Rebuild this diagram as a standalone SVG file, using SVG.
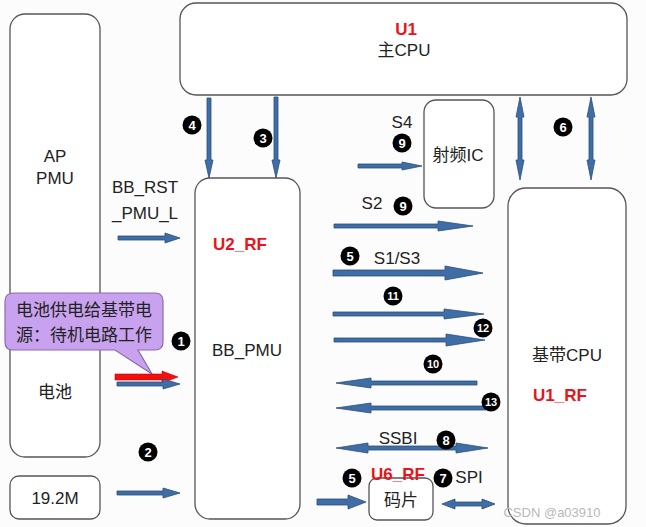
<svg xmlns="http://www.w3.org/2000/svg" width="646" height="527" viewBox="0 0 646 527">
<style>
.box{fill:#fff;stroke:#555;stroke-width:1.3}
.t{font-family:"Liberation Sans","Noto Sans CJK SC",sans-serif;font-size:17px;fill:#222;text-anchor:middle}
.r{fill:#e8141b;font-weight:bold}
.ar{fill:#3f6ea6;stroke:#2b4c78;stroke-width:0.8}
.n circle{fill:#000}
.n text{font-family:"Liberation Sans",sans-serif;font-size:13px;font-weight:bold;fill:#fff;text-anchor:middle}
</style>
<rect width="646" height="527" fill="#fcfcfc"/>
<g id="u1"><rect class="box" x="180" y="3" width="447" height="92" rx="16"/>
<text class="t r" x="406" y="35">U1</text><text class="t" x="404" y="56">主CPU</text></g>
<g id="ap-pmu"><rect class="box" x="10" y="14" width="90" height="443" rx="15"/>
<text class="t" x="55" y="162">AP</text><text class="t" x="55" y="184">PMU</text><text class="t" x="55" y="398">电池</text></g>
<g id="osc"><rect class="box" x="10" y="476" width="90" height="43" rx="9"/><text class="t" x="55" y="504">19.2M</text></g>
<g id="u2"><rect class="box" x="195" y="178" width="105" height="341" rx="15"/>
<text class="t r" x="240" y="250">U2_RF</text><text class="t" x="247" y="356">BB_PMU</text></g>
<g id="rfic"><rect class="box" x="424" y="100" width="70" height="108" rx="12"/><text class="t" x="458" y="161">射频IC</text></g>
<g id="bbcpu"><rect class="box" x="508" y="188" width="118" height="336" rx="18"/>
<text class="t" x="567" y="361">基带CPU</text><text class="t r" x="560" y="401">U1_RF</text></g>
<g id="chip"><rect class="box" x="369" y="478" width="64" height="42" rx="8"/><text class="t" x="401" y="506">码片</text></g>
<g id="bubble"><path d="M14,293 H155 Q163,293 163,301 V342 Q163,350 155,350 H138 L152,374 L115,350 H13 Q5,350 5,342 V301 Q5,293 14,293 Z" fill="#c8a2ee" stroke="#8a6aae" stroke-width="1.2"/>
<text class="t" x="84" y="316">电池供电给基带电</text><text class="t" x="84" y="341">源：待机电路工作</text></g>
<g id="connectors">
<path class="ar" d="M207,98 H211 V160 H213 L209,178 L205,160 H207 Z"/>
<path class="ar" d="M274,97 H278 V160 H280 L276,178 L272,160 H274 Z"/>
<path class="ar" d="M520,97 L524,117 H522 V160 H524 L520,180 L516,160 H518 V117 H516 Z"/>
<path class="ar" d="M591,97 L595,117 H593 V160 H595 L591,180 L587,160 H589 V117 H587 Z"/>
<path class="ar" d="M118,236 H165 V233 L180,238 L165,243 V240 H118 Z"/>
<path class="ar" d="M358,164 H402 V162 L422,166 L402,170 V168 H358 Z"/>
<path class="ar" d="M334,224 H438 V221 L473,226 L438,231 V228 H334 Z"/>
<path class="ar" d="M333,270 H445 V266 L483,273 L445,280 V276 H333 Z"/>
<path class="ar" d="M333,312 H444 V309 L484,314 L444,319 V316 H333 Z"/>
<path class="ar" d="M334,338 H446 V334 L485,340 L446,346 V342 H334 Z"/>
<path class="ar" d="M477,381 H371 V378 L336,383 L371,388 V385 H477 Z"/>
<path class="ar" d="M486,406 H371 V403 L336,408 L371,413 V410 H486 Z"/>
<path class="ar" d="M336,448 L368,443 V446 H456 V443 L488,448 L456,453 V450 H368 V453 Z"/>
<path class="ar" d="M317,499 H348 V495 L366,502 L348,509 V505 H317 Z"/>
<path class="ar" d="M442,504 L455,499 V502 H482 V499 L495,504 L482,509 V506 H455 V509 Z"/>
<path d="M115,374 H162 V371 L178,377 L162,383 V380 H115 Z" fill="#f01010" stroke="#c00" stroke-width="0.6"/>
<path class="ar" d="M117,382 H163 V379 L180,384 L163,389 V386 H117 Z"/>
<path class="ar" d="M117,491 H163 V488 L180,493 L163,498 V495 H117 Z"/>
</g>
<g id="labels">
<text class="t" x="145" y="193">BB_RST</text><text class="t" x="145" y="219">_PMU_L</text>
<text class="t" x="402" y="128">S4</text>
<text class="t" x="372" y="209">S2</text>
<text class="t" x="397" y="264">S1/S3</text>
<text class="t" x="398" y="444">SSBI</text>
<text class="t r" x="398" y="480">U6_RF</text>
<text class="t" x="469" y="483">SPI</text>
<g class="n"><circle cx="192" cy="125" r="9.5"/><text x="192" y="130">4</text></g>
<g class="n"><circle cx="263" cy="138" r="9.5"/><text x="263" y="143">3</text></g>
<g class="n"><circle cx="563" cy="127" r="9.5"/><text x="563" y="132">6</text></g>
<g class="n"><circle cx="402" cy="143" r="9.5"/><text x="402" y="148">9</text></g>
<g class="n"><circle cx="403" cy="206" r="9.5"/><text x="403" y="211">9</text></g>
<g class="n"><circle cx="350" cy="256" r="9.5"/><text x="350" y="261">5</text></g>
<g class="n"><circle cx="393" cy="296" r="9.5"/><text x="393" y="300" style="font-size:11px">11</text></g>
<g class="n"><circle cx="483" cy="328" r="9.5"/><text x="483" y="332" style="font-size:11px">12</text></g>
<g class="n"><circle cx="433" cy="364" r="9.5"/><text x="433" y="368" style="font-size:11px">10</text></g>
<g class="n"><circle cx="491" cy="402" r="9.5"/><text x="491" y="406" style="font-size:11px">13</text></g>
<g class="n"><circle cx="446" cy="440" r="9.5"/><text x="446" y="445">8</text></g>
<g class="n"><circle cx="352" cy="478" r="9.5"/><text x="352" y="483">5</text></g>
<g class="n"><circle cx="443" cy="478" r="9.5"/><text x="443" y="483">7</text></g>
<g class="n"><circle cx="181" cy="341" r="9.5"/><text x="181" y="346">1</text></g>
<g class="n"><circle cx="148" cy="452" r="9.5"/><text x="148" y="457">2</text></g>
<text x="552" y="517" style="font-family:'Liberation Sans',sans-serif;font-size:13px;fill:#b8b8b8" text-anchor="middle">CSDN @a03910</text>
</g>
</svg>
